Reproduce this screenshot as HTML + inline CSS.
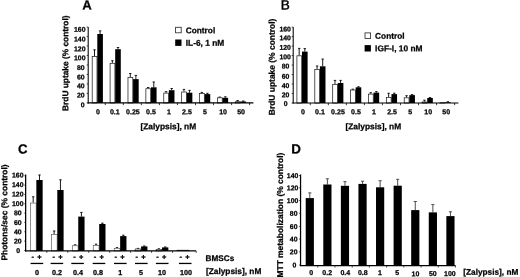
<!DOCTYPE html>
<html lang="en"><head><meta charset="utf-8"><title>Figure</title>
<style>html,body{margin:0;padding:0;background:#fff;overflow:hidden}svg{display:block}text{stroke:#000;stroke-width:.25px;paint-order:stroke}</style>
</head><body>
<svg width="520" height="277" viewBox="0 0 520 277" font-family='"Liberation Sans", Arial, Helvetica, sans-serif' fill="#000">
<rect width="520" height="277" fill="#fff"/>
<g filter="url(#soft)">
<text x="87.05" y="9.6" font-size="13.2" text-anchor="middle" font-weight="bold" transform="rotate(0.03 87.05 9.6)">A</text>
<text x="68.2" y="63.2" font-size="8.35" text-anchor="middle" font-weight="bold" transform="rotate(-89.97 68.2 63.2)">BrdU uptake (% control)</text>
<text x="84.6" y="107.35" font-size="6.9" text-anchor="end" font-weight="bold" transform="rotate(0.03 84.6 107.35)">0</text>
<line x1="86.70" y1="102.90" x2="88.10" y2="102.90" stroke="#222" stroke-width="0.8"/>
<text x="84.6" y="97.6" font-size="6.9" text-anchor="end" font-weight="bold" transform="rotate(0.03 84.6 97.6)">20</text>
<line x1="86.70" y1="93.41" x2="88.10" y2="93.41" stroke="#222" stroke-width="0.8"/>
<text x="84.6" y="88.2" font-size="6.9" text-anchor="end" font-weight="bold" transform="rotate(0.03 84.6 88.2)">40</text>
<line x1="86.70" y1="83.92" x2="88.10" y2="83.92" stroke="#222" stroke-width="0.8"/>
<text x="84.6" y="79.5" font-size="6.9" text-anchor="end" font-weight="bold" transform="rotate(0.03 84.6 79.5)">60</text>
<line x1="86.70" y1="74.44" x2="88.10" y2="74.44" stroke="#222" stroke-width="0.8"/>
<text x="84.6" y="69.9" font-size="6.9" text-anchor="end" font-weight="bold" transform="rotate(0.03 84.6 69.9)">80</text>
<line x1="86.70" y1="64.95" x2="88.10" y2="64.95" stroke="#222" stroke-width="0.8"/>
<text x="85.5" y="60.2" font-size="6.9" text-anchor="end" font-weight="bold" transform="rotate(0.03 85.5 60.2)">100</text>
<line x1="86.70" y1="55.46" x2="88.10" y2="55.46" stroke="#222" stroke-width="0.8"/>
<text x="85.5" y="51.15" font-size="6.9" text-anchor="end" font-weight="bold" transform="rotate(0.03 85.5 51.15)">120</text>
<line x1="86.70" y1="45.97" x2="88.10" y2="45.97" stroke="#222" stroke-width="0.8"/>
<text x="85.5" y="41.5" font-size="6.9" text-anchor="end" font-weight="bold" transform="rotate(0.03 85.5 41.5)">140</text>
<line x1="86.70" y1="36.48" x2="88.10" y2="36.48" stroke="#222" stroke-width="0.8"/>
<text x="85.5" y="31.7" font-size="6.9" text-anchor="end" font-weight="bold" transform="rotate(0.03 85.5 31.7)">160</text>
<line x1="86.70" y1="27.00" x2="88.10" y2="27.00" stroke="#222" stroke-width="0.8"/>
<line x1="94.50" y1="49.60" x2="94.50" y2="56.00" stroke="#111" stroke-width="0.95"/>
<line x1="93.30" y1="49.80" x2="95.70" y2="49.80" stroke="#111" stroke-width="0.9"/>
<line x1="100.10" y1="30.70" x2="100.10" y2="34.00" stroke="#111" stroke-width="0.95"/>
<line x1="98.90" y1="30.90" x2="101.30" y2="30.90" stroke="#111" stroke-width="0.9"/>
<rect x="92.20" y="56.40" width="4.80" height="46.50" fill="#fff" stroke="#222" stroke-width="0.75"/>
<rect x="97.30" y="34.00" width="5.60" height="68.90" fill="#000"/>
<text x="97.91666666666666" y="114.2" font-size="7.05" text-anchor="middle" font-weight="bold" transform="rotate(0.03 97.91666666666666 114.2)">0</text>
<line x1="105.29" y1="102.90" x2="105.29" y2="105.10" stroke="#222" stroke-width="0.9"/>
<line x1="112.39" y1="60.50" x2="112.39" y2="62.90" stroke="#111" stroke-width="0.95"/>
<line x1="111.19" y1="60.70" x2="113.59" y2="60.70" stroke="#111" stroke-width="0.9"/>
<line x1="117.99" y1="47.30" x2="117.99" y2="49.20" stroke="#111" stroke-width="0.95"/>
<line x1="116.79" y1="47.50" x2="119.19" y2="47.50" stroke="#111" stroke-width="0.9"/>
<rect x="110.09" y="63.30" width="4.80" height="39.60" fill="#fff" stroke="#222" stroke-width="0.75"/>
<rect x="115.19" y="49.20" width="5.60" height="53.70" fill="#000"/>
<text x="114.85000000000001" y="114.2" font-size="7.05" text-anchor="middle" font-weight="bold" transform="rotate(0.03 114.85000000000001 114.2)">0.1</text>
<line x1="123.33" y1="102.90" x2="123.33" y2="105.10" stroke="#222" stroke-width="0.9"/>
<line x1="130.28" y1="73.30" x2="130.28" y2="77.20" stroke="#111" stroke-width="0.95"/>
<line x1="129.08" y1="73.50" x2="131.48" y2="73.50" stroke="#111" stroke-width="0.9"/>
<line x1="135.88" y1="75.20" x2="135.88" y2="79.10" stroke="#111" stroke-width="0.95"/>
<line x1="134.68" y1="75.40" x2="137.08" y2="75.40" stroke="#111" stroke-width="0.9"/>
<rect x="127.98" y="77.60" width="4.80" height="25.30" fill="#fff" stroke="#222" stroke-width="0.75"/>
<rect x="133.08" y="79.10" width="5.60" height="23.80" fill="#000"/>
<text x="132.88333333333333" y="114.2" font-size="7.05" text-anchor="middle" font-weight="bold" transform="rotate(0.03 132.88333333333333 114.2)">0.25</text>
<line x1="141.37" y1="102.90" x2="141.37" y2="105.10" stroke="#222" stroke-width="0.9"/>
<line x1="148.17" y1="87.30" x2="148.17" y2="88.30" stroke="#111" stroke-width="0.95"/>
<line x1="146.97" y1="87.50" x2="149.37" y2="87.50" stroke="#111" stroke-width="0.9"/>
<line x1="153.77" y1="81.80" x2="153.77" y2="87.30" stroke="#111" stroke-width="0.95"/>
<line x1="152.57" y1="82.00" x2="154.97" y2="82.00" stroke="#111" stroke-width="0.9"/>
<rect x="145.87" y="88.70" width="4.80" height="14.20" fill="#fff" stroke="#222" stroke-width="0.75"/>
<rect x="150.97" y="87.30" width="5.60" height="15.60" fill="#000"/>
<text x="150.91666666666666" y="114.2" font-size="7.05" text-anchor="middle" font-weight="bold" transform="rotate(0.03 150.91666666666666 114.2)">0.5</text>
<line x1="159.41" y1="102.90" x2="159.41" y2="105.10" stroke="#222" stroke-width="0.9"/>
<line x1="166.06" y1="91.50" x2="166.06" y2="92.70" stroke="#111" stroke-width="0.95"/>
<line x1="164.86" y1="91.70" x2="167.26" y2="91.70" stroke="#111" stroke-width="0.9"/>
<line x1="171.66" y1="88.30" x2="171.66" y2="90.20" stroke="#111" stroke-width="0.95"/>
<line x1="170.46" y1="88.50" x2="172.86" y2="88.50" stroke="#111" stroke-width="0.9"/>
<rect x="163.76" y="93.10" width="4.80" height="9.80" fill="#fff" stroke="#222" stroke-width="0.75"/>
<rect x="168.86" y="90.20" width="5.60" height="12.70" fill="#000"/>
<text x="168.95" y="114.2" font-size="7.05" text-anchor="middle" font-weight="bold" transform="rotate(0.03 168.95 114.2)">1</text>
<line x1="177.45" y1="102.90" x2="177.45" y2="105.10" stroke="#222" stroke-width="0.9"/>
<line x1="183.95" y1="89.20" x2="183.95" y2="91.60" stroke="#111" stroke-width="0.95"/>
<line x1="182.75" y1="89.40" x2="185.15" y2="89.40" stroke="#111" stroke-width="0.9"/>
<line x1="189.55" y1="90.20" x2="189.55" y2="92.70" stroke="#111" stroke-width="0.95"/>
<line x1="188.35" y1="90.40" x2="190.75" y2="90.40" stroke="#111" stroke-width="0.9"/>
<rect x="181.65" y="92.00" width="4.80" height="10.90" fill="#fff" stroke="#222" stroke-width="0.75"/>
<rect x="186.75" y="92.70" width="5.60" height="10.20" fill="#000"/>
<text x="186.98333333333332" y="114.2" font-size="7.05" text-anchor="middle" font-weight="bold" transform="rotate(0.03 186.98333333333332 114.2)">2.5</text>
<line x1="195.49" y1="102.90" x2="195.49" y2="105.10" stroke="#222" stroke-width="0.9"/>
<line x1="201.84" y1="92.20" x2="201.84" y2="93.10" stroke="#111" stroke-width="0.95"/>
<line x1="200.64" y1="92.40" x2="203.04" y2="92.40" stroke="#111" stroke-width="0.9"/>
<line x1="207.44" y1="93.10" x2="207.44" y2="94.10" stroke="#111" stroke-width="0.95"/>
<line x1="206.24" y1="93.30" x2="208.64" y2="93.30" stroke="#111" stroke-width="0.9"/>
<rect x="199.54" y="93.50" width="4.80" height="9.40" fill="#fff" stroke="#222" stroke-width="0.75"/>
<rect x="204.64" y="94.10" width="5.60" height="8.80" fill="#000"/>
<text x="205.01666666666665" y="114.2" font-size="7.05" text-anchor="middle" font-weight="bold" transform="rotate(0.03 205.01666666666665 114.2)">5</text>
<line x1="213.53" y1="102.90" x2="213.53" y2="105.10" stroke="#222" stroke-width="0.9"/>
<line x1="219.73" y1="96.90" x2="219.73" y2="97.40" stroke="#111" stroke-width="0.95"/>
<line x1="218.53" y1="97.10" x2="220.93" y2="97.10" stroke="#111" stroke-width="0.9"/>
<line x1="225.33" y1="96.60" x2="225.33" y2="97.80" stroke="#111" stroke-width="0.95"/>
<line x1="224.13" y1="96.80" x2="226.53" y2="96.80" stroke="#111" stroke-width="0.9"/>
<rect x="217.43" y="97.80" width="4.80" height="5.10" fill="#fff" stroke="#222" stroke-width="0.75"/>
<rect x="222.53" y="97.80" width="5.60" height="5.10" fill="#000"/>
<text x="223.04999999999998" y="114.2" font-size="7.05" text-anchor="middle" font-weight="bold" transform="rotate(0.03 223.04999999999998 114.2)">10</text>
<line x1="231.57" y1="102.90" x2="231.57" y2="105.10" stroke="#222" stroke-width="0.9"/>
<line x1="237.62" y1="100.30" x2="237.62" y2="101.30" stroke="#111" stroke-width="0.95"/>
<line x1="236.42" y1="100.50" x2="238.82" y2="100.50" stroke="#111" stroke-width="0.9"/>
<line x1="243.22" y1="100.80" x2="243.22" y2="101.50" stroke="#111" stroke-width="0.95"/>
<line x1="242.02" y1="101.00" x2="244.42" y2="101.00" stroke="#111" stroke-width="0.9"/>
<rect x="235.32" y="101.70" width="4.80" height="1.20" fill="#fff" stroke="#222" stroke-width="0.75"/>
<rect x="240.42" y="101.50" width="5.60" height="1.40" fill="#000"/>
<text x="241.08333333333334" y="114.2" font-size="7.05" text-anchor="middle" font-weight="bold" transform="rotate(0.03 241.08333333333334 114.2)">50</text>
<line x1="249.61" y1="102.90" x2="249.61" y2="105.10" stroke="#222" stroke-width="0.9"/>
<line x1="88.20" y1="26.90" x2="88.20" y2="103.40" stroke="#000" stroke-width="1.05"/>
<line x1="87.70" y1="102.90" x2="253.40" y2="102.90" stroke="#000" stroke-width="1.1"/>
<text x="168.3" y="129.2" font-size="8.4" text-anchor="middle" font-weight="bold" transform="rotate(0.03 168.3 129.2)">[Zalypsis], nM</text>
<rect x="175.60" y="27.30" width="5.60" height="5.50" fill="#fff" stroke="#222" stroke-width="0.8"/>
<rect x="175.20" y="39.50" width="6.30" height="6.40" fill="#000"/>
<text x="185.7" y="33.2" font-size="8.3" text-anchor="start" font-weight="bold" transform="rotate(0.03 185.7 33.2)">Control</text>
<text x="185.7" y="45.7" font-size="8.4" text-anchor="start" font-weight="bold" transform="rotate(0.03 185.7 45.7)">IL-6, 1 nM</text>
<text x="285.3" y="9.5" font-size="13.6" text-anchor="middle" font-weight="normal" transform="rotate(0.03 285.3 9.5)" style="stroke-width:.45px">B</text>
<text x="274.8" y="66.9" font-size="8.45" text-anchor="middle" font-weight="bold" transform="rotate(-89.97 274.8 66.9)">BrdU uptake (% control)</text>
<text x="287.5" y="105.95" font-size="6.9" text-anchor="end" font-weight="bold" transform="rotate(0.03 287.5 105.95)">0</text>
<line x1="291.70" y1="103.00" x2="293.10" y2="103.00" stroke="#222" stroke-width="0.8"/>
<text x="289.40000000000003" y="97.2" font-size="6.9" text-anchor="end" font-weight="bold" transform="rotate(0.03 289.40000000000003 97.2)">20</text>
<line x1="291.70" y1="93.51" x2="293.10" y2="93.51" stroke="#222" stroke-width="0.8"/>
<text x="289.40000000000003" y="88.0" font-size="6.9" text-anchor="end" font-weight="bold" transform="rotate(0.03 289.40000000000003 88.0)">40</text>
<line x1="291.70" y1="84.02" x2="293.10" y2="84.02" stroke="#222" stroke-width="0.8"/>
<text x="289.40000000000003" y="78.8" font-size="6.9" text-anchor="end" font-weight="bold" transform="rotate(0.03 289.40000000000003 78.8)">60</text>
<line x1="291.70" y1="74.54" x2="293.10" y2="74.54" stroke="#222" stroke-width="0.8"/>
<text x="289.40000000000003" y="68.6" font-size="6.9" text-anchor="end" font-weight="bold" transform="rotate(0.03 289.40000000000003 68.6)">80</text>
<line x1="291.70" y1="65.05" x2="293.10" y2="65.05" stroke="#222" stroke-width="0.8"/>
<text x="290.90000000000003" y="59.15" font-size="6.9" text-anchor="end" font-weight="bold" transform="rotate(0.03 290.90000000000003 59.15)">100</text>
<line x1="291.70" y1="55.56" x2="293.10" y2="55.56" stroke="#222" stroke-width="0.8"/>
<text x="290.90000000000003" y="49.8" font-size="6.9" text-anchor="end" font-weight="bold" transform="rotate(0.03 290.90000000000003 49.8)">120</text>
<line x1="291.70" y1="46.07" x2="293.10" y2="46.07" stroke="#222" stroke-width="0.8"/>
<text x="290.90000000000003" y="40.3" font-size="6.9" text-anchor="end" font-weight="bold" transform="rotate(0.03 290.90000000000003 40.3)">140</text>
<line x1="291.70" y1="36.58" x2="293.10" y2="36.58" stroke="#222" stroke-width="0.8"/>
<text x="290.90000000000003" y="31.4" font-size="6.9" text-anchor="end" font-weight="bold" transform="rotate(0.03 290.90000000000003 31.4)">160</text>
<line x1="291.70" y1="27.10" x2="293.10" y2="27.10" stroke="#222" stroke-width="0.8"/>
<line x1="299.20" y1="48.20" x2="299.20" y2="55.40" stroke="#111" stroke-width="0.95"/>
<line x1="298.00" y1="48.40" x2="300.40" y2="48.40" stroke="#111" stroke-width="0.9"/>
<line x1="304.80" y1="48.40" x2="304.80" y2="51.60" stroke="#111" stroke-width="0.95"/>
<line x1="303.60" y1="48.60" x2="306.00" y2="48.60" stroke="#111" stroke-width="0.9"/>
<rect x="296.90" y="55.80" width="4.80" height="47.20" fill="#fff" stroke="#222" stroke-width="0.75"/>
<rect x="302.00" y="51.60" width="5.60" height="51.40" fill="#000"/>
<text x="302.9166666666667" y="114.2" font-size="7.05" text-anchor="middle" font-weight="bold" transform="rotate(0.03 302.9166666666667 114.2)">0</text>
<line x1="310.29" y1="103.00" x2="310.29" y2="105.20" stroke="#222" stroke-width="0.9"/>
<line x1="317.09" y1="65.80" x2="317.09" y2="69.00" stroke="#111" stroke-width="0.95"/>
<line x1="315.89" y1="66.00" x2="318.29" y2="66.00" stroke="#111" stroke-width="0.9"/>
<line x1="322.69" y1="58.90" x2="322.69" y2="66.30" stroke="#111" stroke-width="0.95"/>
<line x1="321.49" y1="59.10" x2="323.89" y2="59.10" stroke="#111" stroke-width="0.9"/>
<rect x="314.79" y="69.40" width="4.80" height="33.60" fill="#fff" stroke="#222" stroke-width="0.75"/>
<rect x="319.89" y="66.30" width="5.60" height="36.70" fill="#000"/>
<text x="319.95000000000005" y="114.2" font-size="7.05" text-anchor="middle" font-weight="bold" transform="rotate(0.03 319.95000000000005 114.2)">0.1</text>
<line x1="328.33" y1="103.00" x2="328.33" y2="105.20" stroke="#222" stroke-width="0.9"/>
<line x1="334.98" y1="80.20" x2="334.98" y2="84.00" stroke="#111" stroke-width="0.95"/>
<line x1="333.78" y1="80.40" x2="336.18" y2="80.40" stroke="#111" stroke-width="0.9"/>
<line x1="340.58" y1="80.20" x2="340.58" y2="83.00" stroke="#111" stroke-width="0.95"/>
<line x1="339.38" y1="80.40" x2="341.78" y2="80.40" stroke="#111" stroke-width="0.9"/>
<rect x="332.68" y="84.40" width="4.80" height="18.60" fill="#fff" stroke="#222" stroke-width="0.75"/>
<rect x="337.78" y="83.00" width="5.60" height="20.00" fill="#000"/>
<text x="337.98333333333335" y="114.2" font-size="7.05" text-anchor="middle" font-weight="bold" transform="rotate(0.03 337.98333333333335 114.2)">0.25</text>
<line x1="346.37" y1="103.00" x2="346.37" y2="105.20" stroke="#222" stroke-width="0.9"/>
<line x1="352.87" y1="89.00" x2="352.87" y2="89.60" stroke="#111" stroke-width="0.95"/>
<line x1="351.67" y1="89.20" x2="354.07" y2="89.20" stroke="#111" stroke-width="0.9"/>
<line x1="358.47" y1="86.60" x2="358.47" y2="87.30" stroke="#111" stroke-width="0.95"/>
<line x1="357.27" y1="86.80" x2="359.67" y2="86.80" stroke="#111" stroke-width="0.9"/>
<rect x="350.57" y="90.00" width="4.80" height="13.00" fill="#fff" stroke="#222" stroke-width="0.75"/>
<rect x="355.67" y="87.30" width="5.60" height="15.70" fill="#000"/>
<text x="356.0166666666667" y="114.2" font-size="7.05" text-anchor="middle" font-weight="bold" transform="rotate(0.03 356.0166666666667 114.2)">0.5</text>
<line x1="364.41" y1="103.00" x2="364.41" y2="105.20" stroke="#222" stroke-width="0.9"/>
<line x1="370.76" y1="92.50" x2="370.76" y2="93.70" stroke="#111" stroke-width="0.95"/>
<line x1="369.56" y1="92.70" x2="371.96" y2="92.70" stroke="#111" stroke-width="0.9"/>
<line x1="376.36" y1="91.40" x2="376.36" y2="92.60" stroke="#111" stroke-width="0.95"/>
<line x1="375.16" y1="91.60" x2="377.56" y2="91.60" stroke="#111" stroke-width="0.9"/>
<rect x="368.46" y="94.10" width="4.80" height="8.90" fill="#fff" stroke="#222" stroke-width="0.75"/>
<rect x="373.56" y="92.60" width="5.60" height="10.40" fill="#000"/>
<text x="374.05" y="114.2" font-size="7.05" text-anchor="middle" font-weight="bold" transform="rotate(0.03 374.05 114.2)">1</text>
<line x1="382.45" y1="103.00" x2="382.45" y2="105.20" stroke="#222" stroke-width="0.9"/>
<line x1="388.65" y1="93.10" x2="388.65" y2="97.00" stroke="#111" stroke-width="0.95"/>
<line x1="387.45" y1="93.30" x2="389.85" y2="93.30" stroke="#111" stroke-width="0.9"/>
<line x1="394.25" y1="93.00" x2="394.25" y2="94.10" stroke="#111" stroke-width="0.95"/>
<line x1="393.05" y1="93.20" x2="395.45" y2="93.20" stroke="#111" stroke-width="0.9"/>
<rect x="386.35" y="97.40" width="4.80" height="5.60" fill="#fff" stroke="#222" stroke-width="0.75"/>
<rect x="391.45" y="94.10" width="5.60" height="8.90" fill="#000"/>
<text x="392.0833333333333" y="114.2" font-size="7.05" text-anchor="middle" font-weight="bold" transform="rotate(0.03 392.0833333333333 114.2)">2.5</text>
<line x1="400.49" y1="103.00" x2="400.49" y2="105.20" stroke="#222" stroke-width="0.9"/>
<line x1="406.54" y1="95.50" x2="406.54" y2="97.40" stroke="#111" stroke-width="0.95"/>
<line x1="405.34" y1="95.70" x2="407.74" y2="95.70" stroke="#111" stroke-width="0.9"/>
<line x1="412.14" y1="94.40" x2="412.14" y2="95.10" stroke="#111" stroke-width="0.95"/>
<line x1="410.94" y1="94.60" x2="413.34" y2="94.60" stroke="#111" stroke-width="0.9"/>
<rect x="404.24" y="97.80" width="4.80" height="5.20" fill="#fff" stroke="#222" stroke-width="0.75"/>
<rect x="409.34" y="95.10" width="5.60" height="7.90" fill="#000"/>
<text x="410.1166666666667" y="114.2" font-size="7.05" text-anchor="middle" font-weight="bold" transform="rotate(0.03 410.1166666666667 114.2)">5</text>
<line x1="418.53" y1="103.00" x2="418.53" y2="105.20" stroke="#222" stroke-width="0.9"/>
<line x1="424.43" y1="100.00" x2="424.43" y2="101.60" stroke="#111" stroke-width="0.95"/>
<line x1="423.23" y1="100.20" x2="425.63" y2="100.20" stroke="#111" stroke-width="0.9"/>
<line x1="430.03" y1="97.40" x2="430.03" y2="98.00" stroke="#111" stroke-width="0.95"/>
<line x1="428.83" y1="97.60" x2="431.23" y2="97.60" stroke="#111" stroke-width="0.9"/>
<rect x="422.13" y="102.00" width="4.80" height="1.00" fill="#fff" stroke="#222" stroke-width="0.75"/>
<rect x="427.23" y="98.00" width="5.60" height="5.00" fill="#000"/>
<text x="428.15000000000003" y="114.2" font-size="7.05" text-anchor="middle" font-weight="bold" transform="rotate(0.03 428.15000000000003 114.2)">10</text>
<line x1="436.57" y1="103.00" x2="436.57" y2="105.20" stroke="#222" stroke-width="0.9"/>
<line x1="447.92" y1="101.60" x2="447.92" y2="102.20" stroke="#111" stroke-width="0.95"/>
<line x1="446.72" y1="101.80" x2="449.12" y2="101.80" stroke="#111" stroke-width="0.9"/>
<rect x="440.02" y="102.70" width="4.80" height="0.30" fill="#fff" stroke="#222" stroke-width="0.75"/>
<rect x="445.12" y="102.20" width="5.60" height="0.80" fill="#000"/>
<text x="446.18333333333334" y="114.2" font-size="7.05" text-anchor="middle" font-weight="bold" transform="rotate(0.03 446.18333333333334 114.2)">50</text>
<line x1="454.61" y1="103.00" x2="454.61" y2="105.20" stroke="#222" stroke-width="0.9"/>
<line x1="293.20" y1="26.90" x2="293.20" y2="103.50" stroke="#000" stroke-width="1.05"/>
<line x1="292.70" y1="103.00" x2="458.40" y2="103.00" stroke="#000" stroke-width="1.1"/>
<text x="373.3" y="129.2" font-size="8.4" text-anchor="middle" font-weight="bold" transform="rotate(0.03 373.3 129.2)">[Zalypsis], nM</text>
<rect x="365.00" y="32.90" width="5.60" height="5.50" fill="#fff" stroke="#222" stroke-width="0.8"/>
<rect x="364.60" y="45.10" width="6.30" height="6.40" fill="#000"/>
<text x="375.1" y="38.8" font-size="8.3" text-anchor="start" font-weight="bold" transform="rotate(0.03 375.1 38.8)">Control</text>
<text x="375.1" y="51.3" font-size="8.4" text-anchor="start" font-weight="bold" transform="rotate(0.03 375.1 51.3)">IGF-I, 10 nM</text>
<text x="22.7" y="153.4" font-size="13.2" text-anchor="middle" font-weight="bold" transform="rotate(0.03 22.7 153.4)">C</text>
<text x="7.3" y="212.5" font-size="8.41" text-anchor="middle" font-weight="bold" transform="rotate(-89.97 7.3 212.5)">Photons/sec (% control)</text>
<text x="20.099999999999998" y="252.95" font-size="6.9" text-anchor="end" font-weight="bold" transform="rotate(0.03 20.099999999999998 252.95)">0</text>
<line x1="24.25" y1="250.45" x2="25.65" y2="250.45" stroke="#222" stroke-width="0.8"/>
<text x="21.599999999999998" y="243.61999999999998" font-size="6.9" text-anchor="end" font-weight="bold" transform="rotate(0.03 21.599999999999998 243.61999999999998)">20</text>
<line x1="24.25" y1="241.12" x2="25.65" y2="241.12" stroke="#222" stroke-width="0.8"/>
<text x="21.599999999999998" y="234.29" font-size="6.9" text-anchor="end" font-weight="bold" transform="rotate(0.03 21.599999999999998 234.29)">40</text>
<line x1="24.25" y1="231.79" x2="25.65" y2="231.79" stroke="#222" stroke-width="0.8"/>
<text x="21.599999999999998" y="224.95999999999998" font-size="6.9" text-anchor="end" font-weight="bold" transform="rotate(0.03 21.599999999999998 224.95999999999998)">60</text>
<line x1="24.25" y1="222.46" x2="25.65" y2="222.46" stroke="#222" stroke-width="0.8"/>
<text x="21.599999999999998" y="215.28" font-size="6.9" text-anchor="end" font-weight="bold" transform="rotate(0.03 21.599999999999998 215.28)">80</text>
<line x1="24.25" y1="213.13" x2="25.65" y2="213.13" stroke="#222" stroke-width="0.8"/>
<text x="23.5" y="205.95" font-size="6.9" text-anchor="end" font-weight="bold" transform="rotate(0.03 23.5 205.95)">100</text>
<line x1="24.25" y1="203.80" x2="25.65" y2="203.80" stroke="#222" stroke-width="0.8"/>
<text x="23.5" y="196.61999999999998" font-size="6.9" text-anchor="end" font-weight="bold" transform="rotate(0.03 23.5 196.61999999999998)">120</text>
<line x1="24.25" y1="194.47" x2="25.65" y2="194.47" stroke="#222" stroke-width="0.8"/>
<text x="23.5" y="186.94" font-size="6.9" text-anchor="end" font-weight="bold" transform="rotate(0.03 23.5 186.94)">140</text>
<line x1="24.25" y1="185.14" x2="25.65" y2="185.14" stroke="#222" stroke-width="0.8"/>
<text x="23.5" y="177.61" font-size="6.9" text-anchor="end" font-weight="bold" transform="rotate(0.03 23.5 177.61)">160</text>
<line x1="24.25" y1="175.81" x2="25.65" y2="175.81" stroke="#222" stroke-width="0.8"/>
<line x1="33.20" y1="196.60" x2="33.20" y2="202.70" stroke="#111" stroke-width="0.95"/>
<line x1="32.00" y1="196.80" x2="34.40" y2="196.80" stroke="#111" stroke-width="0.9"/>
<line x1="39.50" y1="174.80" x2="39.50" y2="180.00" stroke="#111" stroke-width="0.95"/>
<line x1="38.30" y1="175.00" x2="40.70" y2="175.00" stroke="#111" stroke-width="0.9"/>
<rect x="30.40" y="203.05" width="5.80" height="47.90" fill="#fff" stroke="#555" stroke-width="0.65"/>
<rect x="36.35" y="180.00" width="6.30" height="70.95" fill="#000"/>
<text x="32.800000000000004" y="259.2" font-size="7.5" text-anchor="middle" font-weight="bold" transform="rotate(0.03 32.800000000000004 259.2)">-</text>
<text x="39.5" y="259.4" font-size="7.5" text-anchor="middle" font-weight="bold" transform="rotate(0.03 39.5 259.4)">+</text>
<line x1="30.60" y1="263.45" x2="43.20" y2="263.45" stroke="#000" stroke-width="1.3"/>
<text x="37.0" y="275.0" font-size="7.2" text-anchor="middle" font-weight="bold" transform="rotate(0.03 37.0 275.0)">0</text>
<line x1="46.83" y1="250.95" x2="46.83" y2="252.95" stroke="#333" stroke-width="0.8"/>
<line x1="54.15" y1="230.80" x2="54.15" y2="234.30" stroke="#111" stroke-width="0.95"/>
<line x1="52.95" y1="231.00" x2="55.35" y2="231.00" stroke="#111" stroke-width="0.9"/>
<line x1="60.45" y1="179.60" x2="60.45" y2="190.00" stroke="#111" stroke-width="0.95"/>
<line x1="59.25" y1="179.80" x2="61.65" y2="179.80" stroke="#111" stroke-width="0.9"/>
<rect x="51.35" y="234.65" width="5.80" height="16.30" fill="#fff" stroke="#555" stroke-width="0.65"/>
<rect x="57.30" y="190.00" width="6.30" height="60.95" fill="#000"/>
<text x="53.800000000000004" y="259.2" font-size="7.5" text-anchor="middle" font-weight="bold" transform="rotate(0.03 53.800000000000004 259.2)">-</text>
<text x="60.5" y="259.4" font-size="7.5" text-anchor="middle" font-weight="bold" transform="rotate(0.03 60.5 259.4)">+</text>
<line x1="50.60" y1="263.45" x2="63.20" y2="263.45" stroke="#000" stroke-width="1.3"/>
<text x="56.9" y="275.0" font-size="7.2" text-anchor="middle" font-weight="bold" transform="rotate(0.03 56.9 275.0)">0.2</text>
<line x1="67.78" y1="250.95" x2="67.78" y2="252.95" stroke="#333" stroke-width="0.8"/>
<line x1="75.10" y1="244.60" x2="75.10" y2="245.40" stroke="#111" stroke-width="0.95"/>
<line x1="73.90" y1="244.80" x2="76.30" y2="244.80" stroke="#111" stroke-width="0.9"/>
<line x1="81.40" y1="212.20" x2="81.40" y2="216.60" stroke="#111" stroke-width="0.95"/>
<line x1="80.20" y1="212.40" x2="82.60" y2="212.40" stroke="#111" stroke-width="0.9"/>
<rect x="72.30" y="245.75" width="5.80" height="5.20" fill="#fff" stroke="#555" stroke-width="0.65"/>
<rect x="78.25" y="216.60" width="6.30" height="34.35" fill="#000"/>
<text x="74.55" y="259.2" font-size="7.5" text-anchor="middle" font-weight="bold" transform="rotate(0.03 74.55 259.2)">-</text>
<text x="81.25" y="259.4" font-size="7.5" text-anchor="middle" font-weight="bold" transform="rotate(0.03 81.25 259.4)">+</text>
<line x1="71.30" y1="263.45" x2="83.90" y2="263.45" stroke="#000" stroke-width="1.3"/>
<text x="78.0" y="275.0" font-size="7.2" text-anchor="middle" font-weight="bold" transform="rotate(0.03 78.0 275.0)">0.4</text>
<line x1="88.72" y1="250.95" x2="88.72" y2="252.95" stroke="#333" stroke-width="0.8"/>
<line x1="96.05" y1="244.00" x2="96.05" y2="245.00" stroke="#111" stroke-width="0.95"/>
<line x1="94.85" y1="244.20" x2="97.25" y2="244.20" stroke="#111" stroke-width="0.9"/>
<line x1="102.35" y1="223.00" x2="102.35" y2="224.00" stroke="#111" stroke-width="0.95"/>
<line x1="101.15" y1="223.20" x2="103.55" y2="223.20" stroke="#111" stroke-width="0.9"/>
<rect x="93.25" y="245.35" width="5.80" height="5.60" fill="#fff" stroke="#555" stroke-width="0.65"/>
<rect x="99.20" y="224.00" width="6.30" height="26.95" fill="#000"/>
<text x="94.89999999999999" y="259.2" font-size="7.5" text-anchor="middle" font-weight="bold" transform="rotate(0.03 94.89999999999999 259.2)">-</text>
<text x="101.6" y="259.4" font-size="7.5" text-anchor="middle" font-weight="bold" transform="rotate(0.03 101.6 259.4)">+</text>
<line x1="92.65" y1="263.45" x2="105.25" y2="263.45" stroke="#000" stroke-width="1.3"/>
<text x="98.0" y="275.0" font-size="7.2" text-anchor="middle" font-weight="bold" transform="rotate(0.03 98.0 275.0)">0.8</text>
<line x1="109.68" y1="250.95" x2="109.68" y2="252.95" stroke="#333" stroke-width="0.8"/>
<line x1="117.00" y1="247.40" x2="117.00" y2="248.00" stroke="#111" stroke-width="0.95"/>
<line x1="115.80" y1="247.60" x2="118.20" y2="247.60" stroke="#111" stroke-width="0.9"/>
<line x1="123.30" y1="235.00" x2="123.30" y2="236.10" stroke="#111" stroke-width="0.95"/>
<line x1="122.10" y1="235.20" x2="124.50" y2="235.20" stroke="#111" stroke-width="0.9"/>
<rect x="114.20" y="248.35" width="5.80" height="2.60" fill="#fff" stroke="#555" stroke-width="0.65"/>
<rect x="120.15" y="236.10" width="6.30" height="14.85" fill="#000"/>
<text x="115.85" y="259.2" font-size="7.5" text-anchor="middle" font-weight="bold" transform="rotate(0.03 115.85 259.2)">-</text>
<text x="122.55" y="259.4" font-size="7.5" text-anchor="middle" font-weight="bold" transform="rotate(0.03 122.55 259.4)">+</text>
<line x1="114.00" y1="263.45" x2="126.60" y2="263.45" stroke="#000" stroke-width="1.3"/>
<text x="120.2" y="275.0" font-size="7.2" text-anchor="middle" font-weight="bold" transform="rotate(0.03 120.2 275.0)">1</text>
<line x1="130.62" y1="250.95" x2="130.62" y2="252.95" stroke="#333" stroke-width="0.8"/>
<line x1="137.95" y1="248.20" x2="137.95" y2="248.60" stroke="#111" stroke-width="0.95"/>
<line x1="136.75" y1="248.40" x2="139.15" y2="248.40" stroke="#111" stroke-width="0.9"/>
<line x1="144.25" y1="245.80" x2="144.25" y2="246.40" stroke="#111" stroke-width="0.95"/>
<line x1="143.05" y1="246.00" x2="145.45" y2="246.00" stroke="#111" stroke-width="0.9"/>
<rect x="135.20" y="249.00" width="5.50" height="1.95" fill="#fff" stroke="#444" stroke-width="0.8"/>
<rect x="141.10" y="246.40" width="6.30" height="4.55" fill="#000"/>
<text x="136.79999999999998" y="259.2" font-size="7.5" text-anchor="middle" font-weight="bold" transform="rotate(0.03 136.79999999999998 259.2)">-</text>
<text x="143.5" y="259.4" font-size="7.5" text-anchor="middle" font-weight="bold" transform="rotate(0.03 143.5 259.4)">+</text>
<line x1="135.00" y1="263.45" x2="147.60" y2="263.45" stroke="#000" stroke-width="1.3"/>
<text x="141.1" y="275.0" font-size="7.2" text-anchor="middle" font-weight="bold" transform="rotate(0.03 141.1 275.0)">5</text>
<line x1="151.57" y1="250.95" x2="151.57" y2="252.95" stroke="#333" stroke-width="0.8"/>
<line x1="158.90" y1="248.60" x2="158.90" y2="249.00" stroke="#111" stroke-width="0.95"/>
<line x1="157.70" y1="248.80" x2="160.10" y2="248.80" stroke="#111" stroke-width="0.9"/>
<line x1="165.20" y1="246.80" x2="165.20" y2="247.40" stroke="#111" stroke-width="0.95"/>
<line x1="164.00" y1="247.00" x2="166.40" y2="247.00" stroke="#111" stroke-width="0.9"/>
<rect x="156.15" y="249.40" width="5.50" height="1.55" fill="#fff" stroke="#444" stroke-width="0.8"/>
<rect x="162.05" y="247.40" width="6.30" height="3.55" fill="#000"/>
<text x="157.54999999999998" y="259.2" font-size="7.5" text-anchor="middle" font-weight="bold" transform="rotate(0.03 157.54999999999998 259.2)">-</text>
<text x="164.25" y="259.4" font-size="7.5" text-anchor="middle" font-weight="bold" transform="rotate(0.03 164.25 259.4)">+</text>
<line x1="155.90" y1="263.45" x2="168.50" y2="263.45" stroke="#000" stroke-width="1.3"/>
<text x="162.1" y="275.0" font-size="7.2" text-anchor="middle" font-weight="bold" transform="rotate(0.03 162.1 275.0)">10</text>
<line x1="172.52" y1="250.95" x2="172.52" y2="252.95" stroke="#333" stroke-width="0.8"/>
<rect x="176.70" y="249.85" width="12.60" height="1.10" fill="#222"/>
<text x="180.79999999999998" y="259.2" font-size="7.5" text-anchor="middle" font-weight="bold" transform="rotate(0.03 180.79999999999998 259.2)">-</text>
<text x="187.5" y="259.4" font-size="7.5" text-anchor="middle" font-weight="bold" transform="rotate(0.03 187.5 259.4)">+</text>
<line x1="178.90" y1="263.45" x2="191.50" y2="263.45" stroke="#000" stroke-width="1.3"/>
<text x="186.0" y="275.0" font-size="7.2" text-anchor="middle" font-weight="bold" transform="rotate(0.03 186.0 275.0)">100</text>
<line x1="196.20" y1="250.95" x2="196.20" y2="252.95" stroke="#333" stroke-width="0.8"/>
<line x1="25.65" y1="174.50" x2="25.65" y2="251.45" stroke="#000" stroke-width="1.25"/>
<line x1="25.15" y1="250.95" x2="196.20" y2="250.95" stroke="#000" stroke-width="1.2"/>
<text x="205.6" y="261.0" font-size="8.2" text-anchor="start" font-weight="bold" transform="rotate(0.03 205.6 261.0)">BMSCs</text>
<text x="206.0" y="274.0" font-size="8.3" text-anchor="start" font-weight="bold" transform="rotate(0.03 206.0 274.0)">[Zalypsis], nM</text>
<text x="296.1" y="153.4" font-size="13.4" text-anchor="middle" font-weight="bold" transform="rotate(0.03 296.1 153.4)">D</text>
<text x="283.1" y="152.6" font-size="8.43" text-anchor="end" font-weight="bold" transform="rotate(-89.97 283.1 152.6)">MTT metabolization (% control)</text>
<text x="296.3" y="267.6" font-size="6.9" text-anchor="end" font-weight="bold" transform="rotate(0.03 296.3 267.6)">0</text>
<line x1="299.15" y1="265.10" x2="300.55" y2="265.10" stroke="#222" stroke-width="0.8"/>
<text x="297.5" y="254.3" font-size="6.9" text-anchor="end" font-weight="bold" transform="rotate(0.03 297.5 254.3)">20</text>
<line x1="299.15" y1="251.80" x2="300.55" y2="251.80" stroke="#222" stroke-width="0.8"/>
<text x="297.5" y="241.55" font-size="6.9" text-anchor="end" font-weight="bold" transform="rotate(0.03 297.5 241.55)">40</text>
<line x1="299.15" y1="239.05" x2="300.55" y2="239.05" stroke="#222" stroke-width="0.8"/>
<text x="297.5" y="229.05" font-size="6.9" text-anchor="end" font-weight="bold" transform="rotate(0.03 297.5 229.05)">60</text>
<line x1="299.15" y1="226.55" x2="300.55" y2="226.55" stroke="#222" stroke-width="0.8"/>
<text x="297.5" y="215.75" font-size="6.9" text-anchor="end" font-weight="bold" transform="rotate(0.03 297.5 215.75)">80</text>
<line x1="299.15" y1="213.25" x2="300.55" y2="213.25" stroke="#222" stroke-width="0.8"/>
<text x="298.3" y="203.0" font-size="6.9" text-anchor="end" font-weight="bold" transform="rotate(0.03 298.3 203.0)">100</text>
<line x1="299.15" y1="200.50" x2="300.55" y2="200.50" stroke="#222" stroke-width="0.8"/>
<text x="298.3" y="190.25" font-size="6.9" text-anchor="end" font-weight="bold" transform="rotate(0.03 298.3 190.25)">120</text>
<line x1="299.15" y1="187.75" x2="300.55" y2="187.75" stroke="#222" stroke-width="0.8"/>
<text x="298.3" y="178.0" font-size="6.9" text-anchor="end" font-weight="bold" transform="rotate(0.03 298.3 178.0)">140</text>
<line x1="299.15" y1="175.50" x2="300.55" y2="175.50" stroke="#222" stroke-width="0.8"/>
<line x1="309.80" y1="192.70" x2="309.80" y2="198.10" stroke="#444" stroke-width="0.95"/>
<line x1="308.20" y1="192.90" x2="311.40" y2="192.90" stroke="#444" stroke-width="0.9"/>
<rect x="305.70" y="198.10" width="8.20" height="67.50" fill="#000"/>
<text x="311.2" y="275.1" font-size="7.0" text-anchor="middle" font-weight="bold" transform="rotate(0.03 311.2 275.1)">0</text>
<line x1="317.77" y1="265.60" x2="317.77" y2="267.60" stroke="#333" stroke-width="0.8"/>
<line x1="327.38" y1="178.60" x2="327.38" y2="184.50" stroke="#444" stroke-width="0.95"/>
<line x1="325.78" y1="178.80" x2="328.98" y2="178.80" stroke="#444" stroke-width="0.9"/>
<rect x="323.28" y="184.50" width="8.20" height="81.10" fill="#000"/>
<text x="327.2" y="275.1" font-size="7.0" text-anchor="middle" font-weight="bold" transform="rotate(0.03 327.2 275.1)">0.2</text>
<line x1="334.98" y1="265.60" x2="334.98" y2="267.60" stroke="#333" stroke-width="0.8"/>
<line x1="344.96" y1="181.50" x2="344.96" y2="185.80" stroke="#444" stroke-width="0.95"/>
<line x1="343.36" y1="181.70" x2="346.56" y2="181.70" stroke="#444" stroke-width="0.9"/>
<rect x="340.86" y="185.80" width="8.20" height="79.80" fill="#000"/>
<text x="345.3" y="275.1" font-size="7.0" text-anchor="middle" font-weight="bold" transform="rotate(0.03 345.3 275.1)">0.4</text>
<line x1="352.20" y1="265.60" x2="352.20" y2="267.60" stroke="#333" stroke-width="0.8"/>
<line x1="362.54" y1="181.00" x2="362.54" y2="183.90" stroke="#444" stroke-width="0.95"/>
<line x1="360.94" y1="181.20" x2="364.14" y2="181.20" stroke="#444" stroke-width="0.9"/>
<rect x="358.44" y="183.90" width="8.20" height="81.70" fill="#000"/>
<text x="362.8" y="275.1" font-size="7.0" text-anchor="middle" font-weight="bold" transform="rotate(0.03 362.8 275.1)">0.8</text>
<line x1="369.42" y1="265.60" x2="369.42" y2="267.60" stroke="#333" stroke-width="0.8"/>
<line x1="380.12" y1="180.50" x2="380.12" y2="187.30" stroke="#444" stroke-width="0.95"/>
<line x1="378.52" y1="180.70" x2="381.72" y2="180.70" stroke="#444" stroke-width="0.9"/>
<rect x="376.02" y="187.30" width="8.20" height="78.30" fill="#000"/>
<text x="380.0" y="275.1" font-size="7.0" text-anchor="middle" font-weight="bold" transform="rotate(0.03 380.0 275.1)">1</text>
<line x1="386.63" y1="265.60" x2="386.63" y2="267.60" stroke="#333" stroke-width="0.8"/>
<line x1="397.70" y1="179.10" x2="397.70" y2="185.70" stroke="#444" stroke-width="0.95"/>
<line x1="396.10" y1="179.30" x2="399.30" y2="179.30" stroke="#444" stroke-width="0.9"/>
<rect x="393.60" y="185.70" width="8.20" height="79.90" fill="#000"/>
<text x="397.3" y="275.0" font-size="7.0" text-anchor="middle" font-weight="bold" transform="rotate(0.03 397.3 275.0)">5</text>
<line x1="403.85" y1="265.60" x2="403.85" y2="267.60" stroke="#333" stroke-width="0.8"/>
<line x1="415.28" y1="201.30" x2="415.28" y2="210.10" stroke="#444" stroke-width="0.95"/>
<line x1="413.68" y1="201.50" x2="416.88" y2="201.50" stroke="#444" stroke-width="0.9"/>
<rect x="411.18" y="210.10" width="8.20" height="55.50" fill="#000"/>
<text x="415.4" y="276.2" font-size="7.0" text-anchor="middle" font-weight="bold" transform="rotate(0.03 415.4 276.2)">10</text>
<line x1="421.07" y1="265.60" x2="421.07" y2="267.60" stroke="#333" stroke-width="0.8"/>
<line x1="432.86" y1="204.40" x2="432.86" y2="212.40" stroke="#444" stroke-width="0.95"/>
<line x1="431.26" y1="204.60" x2="434.46" y2="204.60" stroke="#444" stroke-width="0.9"/>
<rect x="428.76" y="212.40" width="8.20" height="53.20" fill="#000"/>
<text x="432.8" y="276.0" font-size="7.0" text-anchor="middle" font-weight="bold" transform="rotate(0.03 432.8 276.0)">50</text>
<line x1="438.28" y1="265.60" x2="438.28" y2="267.60" stroke="#333" stroke-width="0.8"/>
<line x1="450.44" y1="211.60" x2="450.44" y2="216.10" stroke="#444" stroke-width="0.95"/>
<line x1="448.84" y1="211.80" x2="452.04" y2="211.80" stroke="#444" stroke-width="0.9"/>
<rect x="446.34" y="216.10" width="8.20" height="49.50" fill="#000"/>
<text x="449.9" y="275.9" font-size="7.0" text-anchor="middle" font-weight="bold" transform="rotate(0.03 449.9 275.9)">100</text>
<line x1="455.50" y1="265.60" x2="455.50" y2="267.60" stroke="#333" stroke-width="0.8"/>
<line x1="300.55" y1="174.50" x2="300.55" y2="266.10" stroke="#000" stroke-width="1.25"/>
<line x1="300.05" y1="265.60" x2="455.50" y2="265.60" stroke="#000" stroke-width="1.2"/>
<text x="463.3" y="274.8" font-size="8.25" text-anchor="start" font-weight="bold" transform="rotate(0.03 463.3 274.8)">[Zalypsis], nM</text>
</g>
<defs><filter id="soft" x="0" y="0" width="100%" height="100%" filterUnits="userSpaceOnUse"><feGaussianBlur stdDeviation="0.28"/></filter></defs>
</svg>
</body></html>
